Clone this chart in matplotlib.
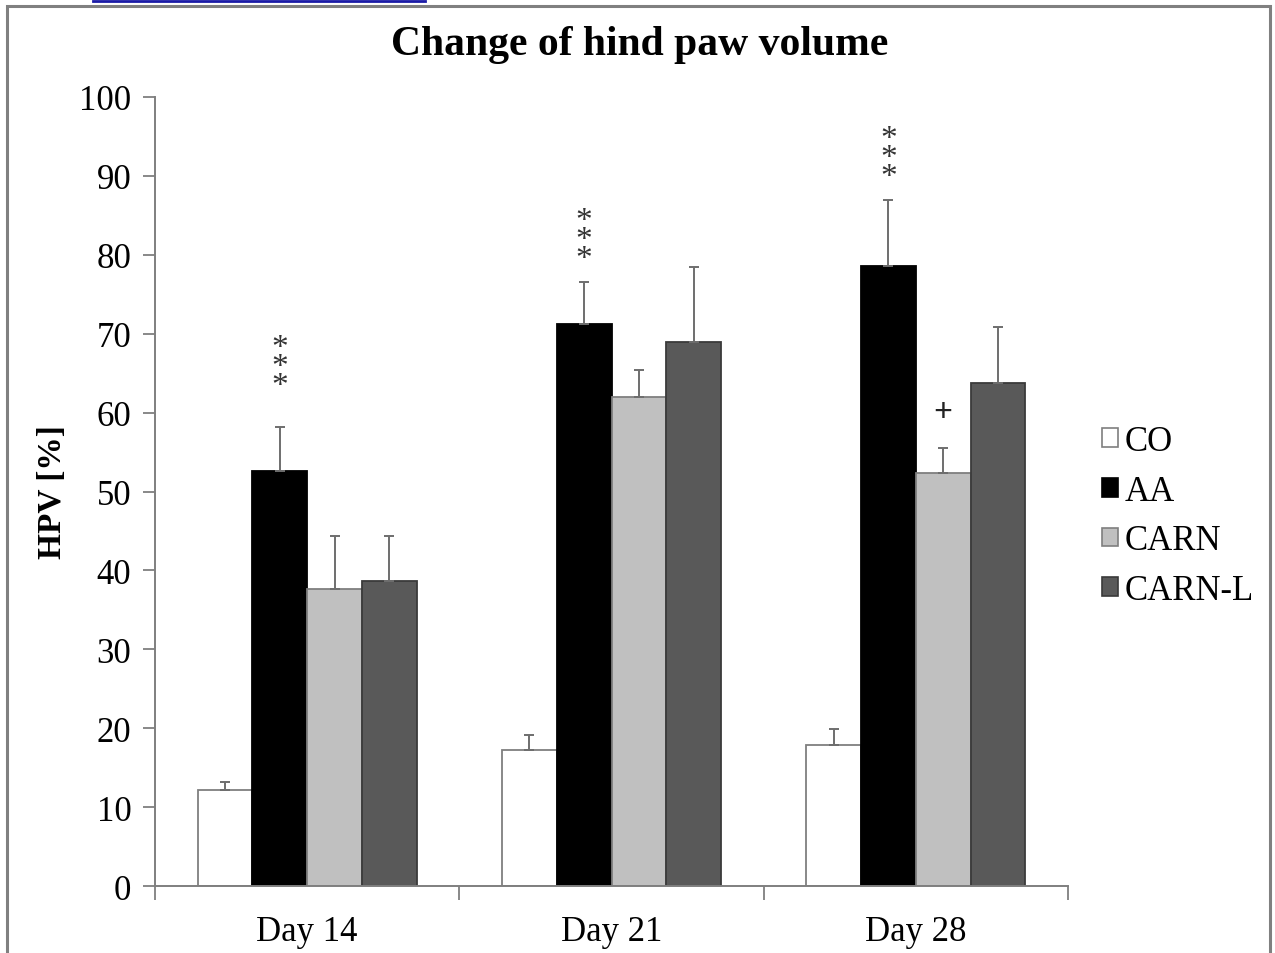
import numpy as np
import matplotlib
matplotlib.use("Agg")
import matplotlib.pyplot as plt
from matplotlib.patches import Rectangle, Patch
from matplotlib.lines import Line2D

plt.rcParams["font.family"] = ["Liberation Serif", "DejaVu Serif"]

# ---------------------------------------------------------------------------
# data
# ---------------------------------------------------------------------------
days = ["Day 14", "Day 21", "Day 28"]
groups = ["CO", "AA", "CARN", "CARN-L"]
co = [12.2, 17.2, 17.9]
aa = [52.6, 71.2, 78.6]
carn = [37.7, 62.0, 52.4]
carn_l = [38.7, 69.0, 63.7]
co_err = [1.0, 2.0, 2.0]
aa_err = [5.6, 5.3, 8.3]
carn_err = [6.7, 3.4, 3.1]
carn_l_err = [5.7, 9.4, 7.1]
# significance marks: (day index, group index, label, y of the mark's centre)
marks = [(0, 1, "*\n*\n*", 65.8), (1, 1, "*\n*\n*", 81.9),
         (2, 1, "*\n*\n*", 92.3), (2, 2, "+", 60.1)]

values = [co, aa, carn, carn_l]
errors = [co_err, aa_err, carn_err, carn_l_err]
faces = ["#ffffff", "#000000", "#c0c0c0", "#595959"]
edges = ["#7f7f7f", "#000000", "#7f7f7f", "#3a3a3a"]

W, H = 1275, 954
fig = plt.figure(figsize=(W / 100, H / 100), dpi=100)
ax = fig.add_axes([155 / W, 1 - 887 / H, (1068 - 155) / W, (887 - 98) / H])

x = np.arange(len(days))
bw = 0.18
for i, (vals, errs) in enumerate(zip(values, errors)):
    pos = x + (i - 1.5) * bw
    ax.bar(pos, vals, width=bw, color=faces[i], edgecolor=edges[i],
           linewidth=1.3, zorder=2)
    ax.errorbar(pos, vals, yerr=[np.zeros(len(errs)), errs], fmt="none",
                ecolor="#6e6e6e", elinewidth=1.4, capsize=3.5, capthick=1.4,
                zorder=3)

for d, g, lab, yc in marks:
    xp = x[d] + (g - 1.5) * bw
    if lab.startswith("*"):
        ax.text(xp, yc, lab, ha="center", va="center", fontsize=24,
                linespacing=0.52, color="#333333", zorder=4)
    else:
        ax.text(xp, yc, lab, ha="center", va="center", fontsize=24,
                fontweight="bold", color="#222222", zorder=4)

ax.set_xlim(-0.5, 2.5)
ax.set_ylim(0, 100)
ax.set_yticks(np.arange(0, 101, 10))
ax.tick_params(axis="y", direction="out", length=9, width=1.3,
               color="#7f7f7f", labelsize=25, pad=8)
ax.set_xticks([-0.5, 0.5, 1.5, 2.5])
ax.set_xticklabels([])
ax.set_xticks(x, minor=True)
ax.set_xticklabels(days, minor=True)
ax.tick_params(axis="x", which="major", direction="out", length=10,
               width=1.3, color="#7f7f7f")
ax.tick_params(axis="x", which="minor", length=0, labelsize=25, pad=21)
for s in ["top", "right"]:
    ax.spines[s].set_visible(False)
for s in ["left", "bottom"]:
    ax.spines[s].set_color("#7f7f7f")
    ax.spines[s].set_linewidth(1.4)

ax.set_ylabel("HPV [%]", fontsize=24, fontweight="bold", labelpad=8)
fig.text(640 / W, 1 - 45 / H, "Change of hind paw volume", ha="center",
         va="center", fontsize=30, fontweight="bold")

handles = [Patch(facecolor=faces[i], edgecolor=edges[i] if i else "#7f7f7f",
                 linewidth=1.2) for i in range(4)]
fig.legend(handles, groups, loc="center left",
           bbox_to_anchor=(1088 / W, 1 - 517 / H), frameon=False,
           fontsize=25, handlelength=0.45, handleheight=0.45,
           handletextpad=0.2, labelspacing=0.48, borderaxespad=0)

# page frame and the cut-off link strip above it
fig.add_artist(Rectangle((7 / W, -0.01), (1270 - 7) / W, 1 - 7 / H + 0.01,
                         transform=fig.transFigure, fill=False,
                         edgecolor="#808080", linewidth=2.2))
fig.add_artist(Line2D([93 / W, 425 / W], [1 - 2 / H, 1 - 2 / H],
                      transform=fig.transFigure, color="#1a1aa6",
                      linewidth=2))

fig.savefig("out.png", dpi=100)
